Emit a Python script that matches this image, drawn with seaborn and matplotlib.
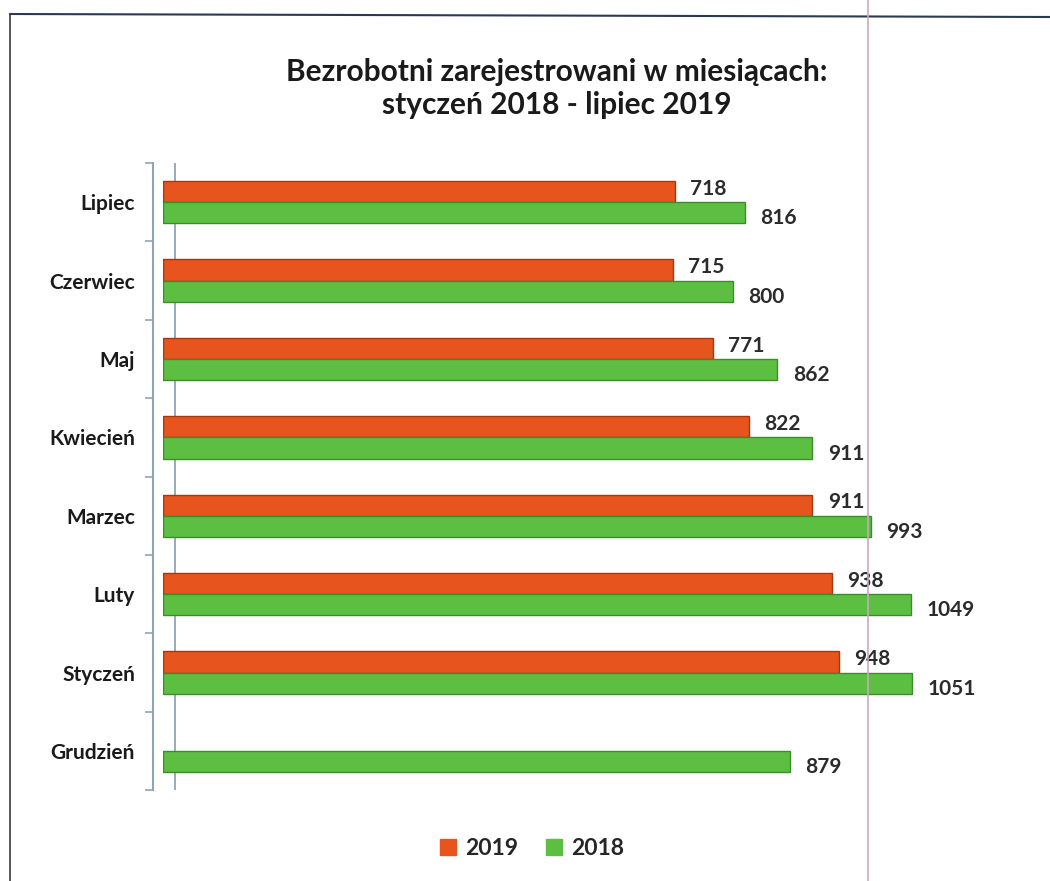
import pandas as pd
import matplotlib.pyplot as plt
from matplotlib.lines import Line2D
from matplotlib.ticker import FixedLocator
import seaborn as sns

months = ["Lipiec", "Czerwiec", "Maj", "Kwiecień", "Marzec", "Luty", "Styczeń", "Grudzień"]
values_2019 = [718, 715, 771, 822, 911, 938, 948, None]
values_2018 = [816, 800, 862, 911, 993, 1049, 1051, 879]
years = ["2019", "2018"]
colors = {"2019": "#E8541E", "2018": "#5DBF42"}
edges = {"2019": "#A8360E", "2018": "#3A8E2A"}

rows = []
for m, v19, v18 in zip(months, values_2019, values_2018):
    if v19 is not None:
        rows.append({"month": m, "year": "2019", "value": v19})
    rows.append({"month": m, "year": "2018", "value": v18})
df = pd.DataFrame(rows)

sns.set_style("white")
plt.rcParams["font.family"] = ["Lato", "DejaVu Sans"]
plt.rcParams["font.weight"] = "bold"

fig = plt.figure(figsize=(10.5, 8.81), dpi=100)
ax = fig.add_axes([0.155, 0.103, 0.815, 0.712])

sns.barplot(data=df, y="month", x="value", hue="year", hue_order=years,
            order=months, palette=colors, orient="h", width=0.54,
            dodge=True, ax=ax, legend=False, saturation=1)

for cont, yr in zip(ax.containers, years):
    dy = 2 if yr == "2019" else -4
    for p in cont.patches:
        p.set_edgecolor(edges[yr])
        p.set_linewidth(1.0)
        w = p.get_width()
        if pd.isna(w):
            continue
        ax.annotate(f"{int(w)}", (w, p.get_y() + p.get_height() / 2),
                    xytext=(11, dy), textcoords="offset points",
                    ha="left", va="center", fontsize=15, fontweight="bold",
                    color="#2b2b2b")

ax.set_xlim(0, 1200)
ax.set_ylim(len(months) - 0.5, -0.5)
ax.set_xlabel("")
ax.set_ylabel("")
ax.set_xticks([])
ax.yaxis.set_minor_locator(FixedLocator([i - 0.5 for i in range(len(months) + 1)]))
ax.tick_params(axis="y", which="major", length=0, pad=13, labelsize=15, labelcolor="#1a1a1a")
ax.tick_params(axis="y", which="minor", length=6, width=1.2, color="#8FA5B5", left=True)

for s in ["top", "right", "bottom"]:
    ax.spines[s].set_visible(False)
ax.spines["left"].set_position(("outward", 7))
ax.spines["left"].set_color("#8FA5B5")
ax.spines["left"].set_linewidth(1.5)
ax.axvline(17, color="#8FA5B5", lw=1.3, zorder=0)

fig.text(0.53, 0.918, "Bezrobotni zarejestrowani w miesiącach:", ha="center",
         va="center", fontsize=21.5, fontweight="bold", color="#1a1a1a")
fig.text(0.53, 0.881, "styczeń 2018 - lipiec 2019", ha="center",
         va="center", fontsize=21.5, fontweight="bold", color="#1a1a1a")

handles = [plt.Rectangle((0, 0), 1, 1, color=colors[y]) for y in years]
fig.legend(handles, years, loc="center", bbox_to_anchor=(0.507, 0.037),
           ncol=2, frameon=False, handlelength=0.7, handleheight=0.7,
           handletextpad=0.4, columnspacing=1.2,
           prop={"size": 16.5, "weight": "bold"})

# page frame from the scan
fig.add_artist(Line2D([10 / 1050, 1.0], [1 - 14 / 881, 1 - 17 / 881], color="#2a3a55", lw=1.5))
fig.add_artist(Line2D([10 / 1050, 10 / 1050], [1 - 14 / 881, 0], color="#3a3a3a", lw=1.2))
fig.add_artist(Line2D([868 / 1050, 868 / 1050], [0, 1], color="#C9A9C0", lw=1.2))

fig.savefig("out.png", dpi=100)
plt.close()
